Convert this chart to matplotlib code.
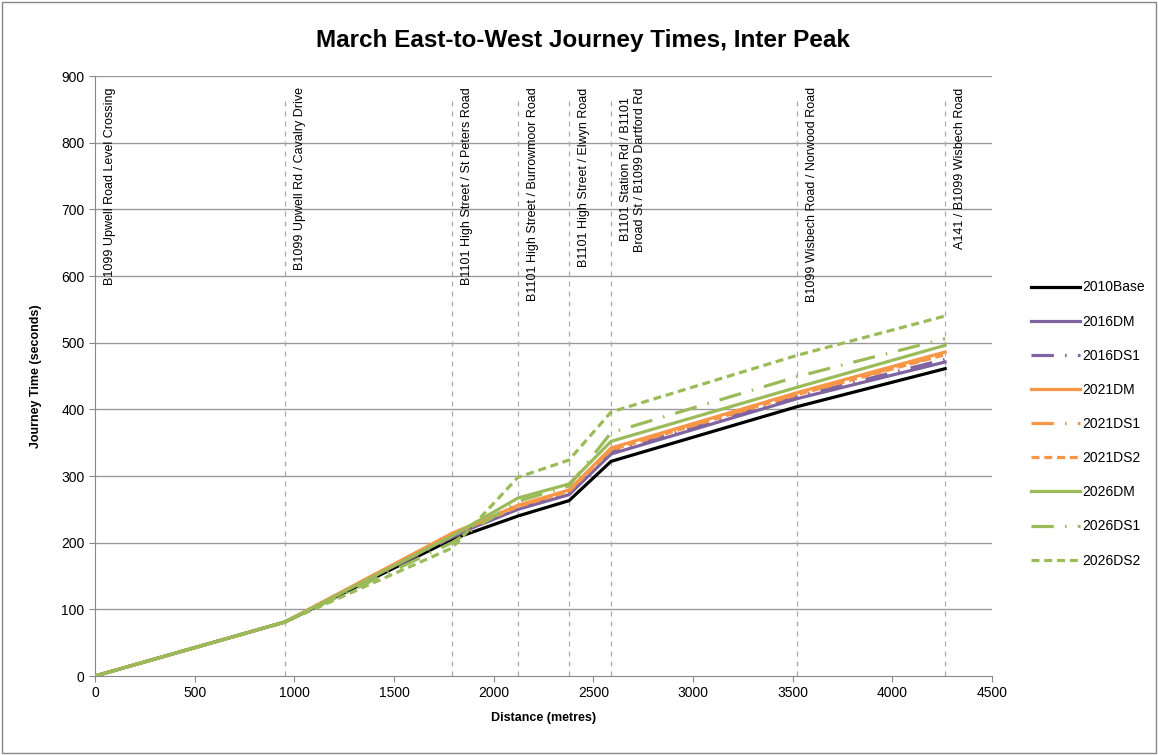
import numpy as np
import matplotlib.pyplot as plt

# junction distances (m) and journey times (s)
distance = [0, 953, 1791, 2122, 2378, 2589, 3522, 4265]
series = {
    "2010Base": [0, 81, 205, 240, 263, 322, 404, 461],
    "2016DM":   [0, 81, 210, 250, 272, 333, 416, 471],
    "2016DS1":  [0, 81, 208, 252, 274, 336, 419, 475],
    "2021DM":   [0, 81, 214, 256, 279, 342, 425, 486],
    "2021DS1":  [0, 81, 213, 255, 278, 340, 423, 483],
    "2021DS2":  [0, 81, 212, 254, 277, 339, 422, 482],
    "2026DM":   [0, 81, 210, 267, 288, 352, 433, 496],
    "2026DS1":  [0, 81, 200, 262, 285, 365, 449, 506],
    "2026DS2":  [0, 81, 192, 298, 324, 396, 481, 540],
}
junctions = [
    "B1099 Upwell Road Level Crossing",
    "B1099 Upwell Rd / Cavalry Drive",
    "B1101 High Street / St Peters Road",
    "B1101 High Street / Burrowmoor Road",
    "B1101 High Street / Elwyn Road",
    "B1101 Station Rd / B1101\nBroad St / B1099 Dartford Rd",
    "B1099 Wisbech Road / Norwood Road",
    "A141 / B1099 Wisbech Road",
]

purple = "#8064A2"
orange = "#F79646"
green = "#9BBB59"
ldash = (0, (7, 3.5, 0.5, 3.5))
sdash = (0, (2.5, 1.5))
styles = {
    "2010Base": ("black", "-"),
    "2016DM": (purple, "-"),
    "2016DS1": (purple, ldash),
    "2021DM": (orange, "-"),
    "2021DS1": (orange, ldash),
    "2021DS2": (orange, sdash),
    "2026DM": (green, "-"),
    "2026DS1": (green, ldash),
    "2026DS2": (green, sdash),
}

plt.rcParams['font.family'] = ['Liberation Sans', 'DejaVu Sans']
fig = plt.figure(figsize=(11.58, 7.55), dpi=100)
ax = fig.add_axes([95 / 1158, 1 - 676 / 755, 897 / 1158, 600 / 755])

for y in range(100, 1000, 100):
    ax.axhline(y, color="#999999", lw=1, zorder=0)

for i, (x, name) in enumerate(zip(distance, junctions)):
    if i > 0:
        ax.plot([x, x], [0, 862], color="#aaaaaa", lw=0.9, ls=(0, (4, 4)), zorder=1)
    off = 110 if "\n" in name else 75
    ax.text(x + off, 883, name, rotation=90, ha="center", va="top",
            fontsize=9, multialignment="center")

for name, vals in series.items():
    c, ls = styles[name]
    ax.plot(distance, vals, color=c, ls=ls, lw=2.3, label=name, zorder=3)

ax.set_xlim(0, 4500)
ax.set_ylim(0, 900)
ax.set_xticks(np.arange(0, 4501, 500))
ax.set_yticks(np.arange(0, 901, 100))
ax.tick_params(labelsize=10, color="#888888", length=4)
for s in ["top", "right"]:
    ax.spines[s].set_visible(False)
for s in ["left", "bottom"]:
    ax.spines[s].set_color("#888888")
ax.set_xlabel("Distance (metres)", fontsize=9, fontweight="bold", labelpad=8)
ax.set_ylabel("Journey Time (seconds)", fontsize=9, fontweight="bold", labelpad=14)
fig.text(583 / 1158, 1 - 40 / 755, "March East-to-West Journey Times, Inter Peak",
         ha="center", va="center", fontsize=17.5, fontweight="bold")

leg = ax.legend(loc="center left", bbox_to_anchor=(1.03, 0.42), frameon=False,
                fontsize=10, handlelength=3.5, labelspacing=1.45, handletextpad=0.15)

fig.patches.append(plt.Rectangle((0.002, 0.002), 0.996, 0.996, transform=fig.transFigure,
                                 fill=False, edgecolor="#888888", lw=1))
fig.savefig("out.png", dpi=100)
